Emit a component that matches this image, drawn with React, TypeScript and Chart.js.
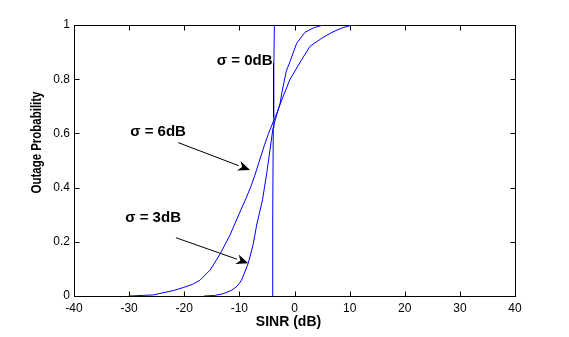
import React, { useEffect, useRef } from "react";
import { Chart, registerables } from "chart.js";

Chart.register(...registerables);

// ---- data ----
const sigma0X = [-4.05, -3.95, -3.85, -3.75, -3.65];
const sigma0Y = [0, 0.3, 0.62, 0.85, 1];

const sigma3X = [-16.4, -14.5, -13, -11.5, -10.6, -10, -9.6, -8.4, -7.5, -6.86, -5.8, -5.04, -4.44, -3.95, -3.5, -2.6, -2.3, -1.5, -0.8, 0.4, 1.9, 3.4, 5.2];
const sigma3Y = [0, 0.002, 0.008, 0.02, 0.033, 0.047, 0.059, 0.12, 0.19, 0.262, 0.355, 0.453, 0.539, 0.613, 0.65, 0.712, 0.749, 0.829, 0.866, 0.933, 0.973, 0.989, 1];

const sigma6X = [-30, -25.6, -22, -20.2, -18.5, -17.1, -15.3, -13.5, -11.7, -9.9, -8.8, -7.8, -7.2, -6.5, -5.4, -4.7, -3.84, -3.2, -2.3, -0.8, 1.3, 2.8, 5.0, 6.8, 8.6, 10.1, 11.6];
const sigma6Y = [0, 0.004, 0.02, 0.031, 0.043, 0.059, 0.096, 0.155, 0.225, 0.31, 0.36, 0.41, 0.445, 0.49, 0.56, 0.6, 0.644, 0.675, 0.724, 0.8, 0.872, 0.921, 0.952, 0.973, 0.989, 0.998, 1];

const xTickValues = [-40, -30, -20, -10, 0, 10, 20, 30, 40];
const xTickLabels = ["-40", "-30", "-20", "-10", "0", "10", "20", "30", "40"];
const yTickValues = [0, 0.2, 0.4, 0.6, 0.8, 1];
const yTickLabels = ["0", "0.2", "0.4", "0.6", "0.8", "1"];

const xTitle = "SINR (dB)";
const yTitle = "Outage Probability";

// annotation texts (left edge x, centre y in data units)
const labelTexts = ["σ = 0dB", "σ = 6dB", "σ = 3dB"];
const labelX = [-14.1, -29.8, -30.7];
const labelY = [0.866, 0.607, 0.288];

// arrows: start -> tip in data units
const arrowFromX = [-21.1, -21.5];
const arrowFromY = [0.566, 0.215];
const arrowToX = [-8.07, -8.38];
const arrowToY = [0.465, 0.121];

// sigma=0 pointer line
const pointerX = [-3.85, -3.85];
const pointerY = [0.86, 0.66];

const FONT = "'Liberation Sans', Arial, Helvetica, sans-serif";

const toPoints = (xs: number[], ys: number[]) => xs.map((x, i) => ({ x, y: ys[i] }));

const boxPlugin = {
  id: "boxTicks",
  beforeDatasetsDraw(chart: any) {
    const { ctx, chartArea: a, scales } = chart;
    ctx.save();
    ctx.strokeStyle = "#000";
    ctx.lineWidth = 1;
    const L = Math.round(a.left) + 0.5;
    const R = Math.round(a.right) + 0.5;
    const T = Math.round(a.top) + 0.5;
    const B = Math.round(a.bottom) + 0.5;
    ctx.strokeRect(L, T, R - L, B - T);
    ctx.beginPath();
    for (const v of xTickValues) {
      const px = Math.round(scales.x.getPixelForValue(v)) + 0.5;
      ctx.moveTo(px, B);
      ctx.lineTo(px, B - 5);
      ctx.moveTo(px, T);
      ctx.lineTo(px, T + 5);
    }
    for (const v of yTickValues) {
      const py = Math.round(scales.y.getPixelForValue(v)) + 0.5;
      ctx.moveTo(L, py);
      ctx.lineTo(L + 5, py);
      ctx.moveTo(R, py);
      ctx.lineTo(R - 5, py);
    }
    ctx.stroke();
    ctx.restore();
  },
};

const annotationPlugin = {
  id: "annotations",
  afterDatasetsDraw(chart: any) {
    const { ctx, chartArea: a, scales } = chart;
    const sx = (v: number) => scales.x.getPixelForValue(v);
    const sy = (v: number) => scales.y.getPixelForValue(v);
    ctx.save();
    ctx.fillStyle = "#000";
    ctx.strokeStyle = "#000";
    ctx.lineWidth = 1;

    // labels
    ctx.font = `bold 15px ${FONT}`;
    ctx.textAlign = "left";
    ctx.textBaseline = "middle";
    labelTexts.forEach((t, i) => {
      ctx.fillText(t, sx(labelX[i]), sy(labelY[i]));
    });

    // arrows
    arrowFromX.forEach((_, i) => {
      const x1 = sx(arrowFromX[i]);
      const y1 = sy(arrowFromY[i]);
      const x2 = sx(arrowToX[i]);
      const y2 = sy(arrowToY[i]);
      const ang = Math.atan2(y2 - y1, x2 - x1);
      const len = 12;
      const hw = 5;
      const bx = x2 - len * Math.cos(ang);
      const by = y2 - len * Math.sin(ang);
      ctx.beginPath();
      ctx.moveTo(x1, y1);
      ctx.lineTo(bx, by);
      ctx.stroke();
      ctx.beginPath();
      ctx.moveTo(x2, y2);
      ctx.lineTo(bx - hw * Math.sin(ang), by + hw * Math.cos(ang));
      ctx.lineTo(x2 - (len * 0.7) * Math.cos(ang), y2 - (len * 0.7) * Math.sin(ang));
      ctx.lineTo(bx + hw * Math.sin(ang), by - hw * Math.cos(ang));
      ctx.closePath();
      ctx.fill();
    });

    // sigma=0 pointer
    ctx.beginPath();
    ctx.moveTo(Math.round(sx(pointerX[0])) + 0.5, sy(pointerY[0]));
    ctx.lineTo(Math.round(sx(pointerX[1])) + 0.5, sy(pointerY[1]));
    ctx.stroke();

    // axis titles
    ctx.font = `bold 14px ${FONT}`;
    ctx.textAlign = "center";
    ctx.textBaseline = "middle";
    ctx.fillText(xTitle, (a.left + a.right) / 2 - 6, a.bottom + 26);

    ctx.font = `bold 15px ${FONT}`;
    ctx.translate(36.5, (a.top + a.bottom) / 2 - 18);
    ctx.rotate(-Math.PI / 2);
    ctx.fillText(yTitle, 0, 0, 102);
    ctx.restore();
  },
};

export default function App() {
  const ref = useRef<HTMLCanvasElement | null>(null);

  useEffect(() => {
    if (!ref.current) return;
    const line = (xs: number[], ys: number[]) => ({
      data: toPoints(xs, ys),
      showLine: true,
      borderColor: "#0000ff",
      backgroundColor: "#0000ff",
      borderWidth: 1,
      pointRadius: 0,
      tension: 0,
      fill: false,
    });
    const chart = new Chart(ref.current, {
      type: "scatter",
      data: {
        datasets: [line(sigma0X, sigma0Y), line(sigma3X, sigma3Y), line(sigma6X, sigma6Y)],
      },
      options: {
        animation: false,
        responsive: false,
        maintainAspectRatio: false,
        events: [],
        layout: { padding: { top: 25, right: 54, left: 0, bottom: 0 } },
        plugins: { legend: { display: false }, tooltip: { enabled: false } },
        scales: {
          x: {
            type: "linear",
            min: -40,
            max: 40,
            afterFit: (s: any) => {
              s.height = 41;
            },
            afterBuildTicks: (s: any) => {
              s.ticks = xTickValues.map((v) => ({ value: v }));
            },
            grid: { display: false, drawTicks: false },
            border: { display: false },
            ticks: {
              color: "#000",
              font: { family: FONT, size: 12 },
              padding: 5,
              maxRotation: 0,
              autoSkip: false,
              callback: (_v: any, i: number) => xTickLabels[i],
            },
          },
          y: {
            type: "linear",
            min: 0,
            max: 1,
            afterFit: (s: any) => {
              s.width = 74;
            },
            afterBuildTicks: (s: any) => {
              s.ticks = yTickValues.map((v) => ({ value: v }));
            },
            grid: { display: false, drawTicks: false },
            border: { display: false },
            ticks: {
              color: "#000",
              font: { family: FONT, size: 12 },
              padding: 4,
              autoSkip: false,
              callback: (_v: any, i: number) => yTickLabels[i],
            },
          },
        },
      },
      plugins: [boxPlugin, annotationPlugin],
    } as any);
    return () => chart.destroy();
  }, []);

  return (
    <div style={{ position: "fixed", left: 0, top: 0, width: 569, height: 337, background: "#fff" }}>
      <canvas ref={ref} width={569} height={337} style={{ display: "block", width: 569, height: 337 }} />
    </div>
  );
}
